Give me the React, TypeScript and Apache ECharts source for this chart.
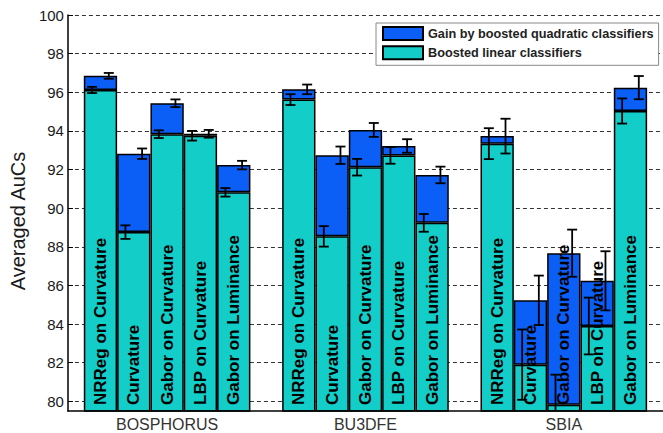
import React, { useEffect, useRef } from 'react';
import * as echarts from 'echarts';

// Categories
const datasets = ['BOSPHORUS', 'BU3DFE', 'SBIA'];
const methods = ['NRReg on Curvature', 'Curvature', 'Gabor on Curvature', 'LBP on Curvature', 'Gabor on Luminance'];

// Boosted linear classifiers (mean AuC and error) per dataset, in method order
const linearBosphorus = [96.12, 88.76, 93.83, 93.75, 90.82];
const linearErrBosphorus = [0.16, 0.35, 0.2, 0.25, 0.22];
const linearBu3dfe = [95.62, 88.54, 92.12, 92.73, 89.24];
const linearErrBu3dfe = [0.28, 0.53, 0.43, 0.43, 0.46];
const linearSbia = [93.34, 81.9, 79.83, 83.9, 95.03];
const linearErrSbia = [0.8, 1.82, 1.55, 1.47, 0.65];

// Boosted quadratic classifiers (total = linear + gain) per dataset
const totalBosphorus = [96.85, 92.82, 95.43, 93.85, 92.23];
const totalErrBosphorus = [0.15, 0.27, 0.2, 0.2, 0.22];
const totalBu3dfe = [96.15, 92.74, 94.05, 93.22, 91.72];
const totalErrBu3dfe = [0.25, 0.45, 0.36, 0.35, 0.43];
const totalSbia = [93.73, 85.23, 87.67, 86.24, 96.24];
const totalErrSbia = [0.9, 1.28, 1.22, 1.53, 0.6];

const linearMeans = [linearBosphorus, linearBu3dfe, linearSbia];
const linearErrs = [linearErrBosphorus, linearErrBu3dfe, linearErrSbia];
const totalMeans = [totalBosphorus, totalBu3dfe, totalSbia];
const totalErrs = [totalErrBosphorus, totalErrBu3dfe, totalErrSbia];

const yTicks = [80, 82, 84, 86, 88, 90, 92, 94, 96, 98, 100];

const GAIN_NAME = 'Gain by boosted quadratic classifiers';
const LIN_NAME = 'Boosted linear classifiers';

export default function App() {
  const ref = useRef<HTMLDivElement>(null);
  useEffect(() => {
    if (!ref.current) return;
    const chart = echarts.init(ref.current, null, { renderer: 'svg' });
    const FONT = "'Liberation Sans', Arial, Helvetica, sans-serif";
    const BLUE = '#0b5ef6';
    const CYAN = '#12cdc8';
    const CAT_GAP = 0.16;

    const series: any[] = [];
    methods.forEach((_m, j) => {
      series.push({
        type: 'bar',
        name: LIN_NAME,
        stack: 'm' + j,
        barGap: '0%',
        barCategoryGap: '16%',
        data: datasets.map((_d, d) => linearMeans[d][j]),
        itemStyle: { color: CYAN, borderColor: '#000', borderWidth: 1.5 },
      });
      series.push({
        type: 'bar',
        name: GAIN_NAME,
        stack: 'm' + j,
        barGap: '0%',
        barCategoryGap: '16%',
        data: datasets.map((_d, d) => +(totalMeans[d][j] - linearMeans[d][j]).toFixed(3)),
        itemStyle: { color: BLUE, borderColor: '#000', borderWidth: 1.5 },
      });
    });

    const custData: number[][] = [];
    datasets.forEach((_d, d) =>
      methods.forEach((_m, j) =>
        custData.push([d, j, linearMeans[d][j], linearErrs[d][j], totalMeans[d][j], totalErrs[d][j]])
      )
    );

    series.push({
      type: 'custom',
      z: 10,
      clip: true,
      silent: true,
      data: custData,
      encode: { x: 0, y: 2 },
      renderItem: (params: any, api: any) => {
        const d = api.value(0);
        const j = api.value(1);
        const lin = api.value(2);
        const le = api.value(3);
        const tot = api.value(4);
        const te = api.value(5);
        const center = api.coord([d, lin])[0];
        const band = api.size([1, 0])[0];
        const groupW = band * (1 - CAT_GAP);
        const bw = groupW / methods.length;
        const left = center - groupW / 2 + j * bw;
        const cs = params.coordSys;
        const bottom = cs.y + cs.height;
        const children: any[] = [];
        children.push({
          type: 'text',
          x: left + bw / 2,
          y: bottom - 6,
          rotation: Math.PI / 2,
          style: {
            text: methods[j],
            fill: '#000',
            font: `bold 17px ${FONT}`,
            align: 'left',
            verticalAlign: 'middle',
          },
        });
        const eb = (x: number, m: number, e: number) => {
          const yt = api.coord([d, m + e])[1];
          const yb = api.coord([d, m - e])[1];
          const st = { stroke: '#000', lineWidth: 1.8 };
          children.push({ type: 'line', shape: { x1: x, y1: yt, x2: x, y2: yb }, style: st });
          children.push({ type: 'line', shape: { x1: x - 5, y1: yt, x2: x + 5, y2: yt }, style: st });
          children.push({ type: 'line', shape: { x1: x - 5, y1: yb, x2: x + 5, y2: yb }, style: st });
        };
        eb(left + bw * 0.25, lin, le);
        eb(left + bw * 0.75, tot, te);
        return { type: 'group', children };
      },
    });

    chart.setOption({
      animation: false,
      backgroundColor: '#fff',
      textStyle: { fontFamily: FONT },
      grid: { left: 61, right: 0, top: 15, bottom: 22 },
      legend: {
        data: [GAIN_NAME, LIN_NAME],
        orient: 'vertical',
        left: 376,
        top: 23,
        selectedMode: false,
        backgroundColor: '#fff',
        borderColor: '#888',
        borderWidth: 1,
        padding: [3, 5, 5, 6],
        itemWidth: 40,
        itemHeight: 13,
        itemGap: 4.3,
        icon: 'rect',
        textStyle: { fontFamily: FONT, fontWeight: 'bold', fontSize: 12.7, color: '#222', lineHeight: 14 },
      },
      xAxis: {
        type: 'category',
        data: datasets,
        z: 20,
        axisLine: { show: true, onZero: false, lineStyle: { color: '#000', width: 1.5 } },
        axisTick: { show: false },
        axisLabel: { fontFamily: FONT, fontSize: 16, color: '#333', margin: 5 },
        splitLine: { show: false },
      },
      yAxis: {
        type: 'value',
        min: 79.5,
        max: 100,
        splitNumber: 10,
        name: 'Averaged AuCs',
        nameLocation: 'middle',
        nameGap: 38,
        nameTextStyle: { fontFamily: FONT, fontSize: 20, color: '#1a1a1a', padding: [0, 16, 0, 0] },
        axisLine: { show: true, lineStyle: { color: '#000', width: 1.5 } },
        axisTick: { show: true, inside: true, length: 5, lineStyle: { color: '#000' } },
        axisLabel: {
          fontFamily: FONT,
          fontSize: 15,
          color: '#1a1a1a',
          margin: 4,
          showMinLabel: false,
          formatter: (v: number) => (yTicks.some((t) => Math.abs(t - v) < 1e-6) ? String(v) : ''),
        },
        splitLine: { show: true, showMinLine: false, lineStyle: { color: '#333', width: 1, type: [4, 3] } },
      },
      series,
    });
    return () => chart.dispose();
  }, []);
  return (
    <div
      ref={ref}
      style={{ position: 'absolute', left: 0, top: 0, width: 663, height: 433, background: '#fff' }}
    />
  );
}
